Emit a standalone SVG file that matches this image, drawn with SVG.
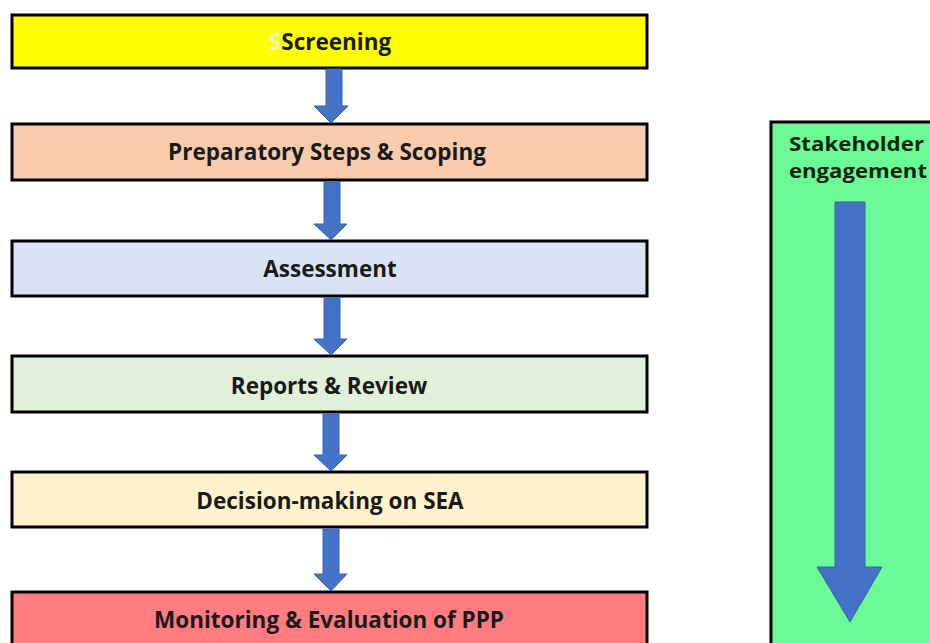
<svg xmlns="http://www.w3.org/2000/svg" width="930" height="643" viewBox="0 0 930 643">
<style>
.box{stroke:#000;stroke-width:3}
.lbl{font-family:"Open Sans","Liberation Sans",sans-serif;font-weight:bold;font-size:22.5px;fill:#1a1a1a;text-anchor:middle}
.side{font-family:"Open Sans","Liberation Sans",sans-serif;font-weight:bold;font-size:20px;fill:#0d260f}
.arr{fill:#4472C4;stroke:#3a64b0;stroke-width:1}
</style>
<rect width="930" height="643" fill="#fff"/>
<g id="screening"><rect class="box" x="12" y="15" width="635" height="53" fill="#FFFF00"/><text class="lbl" x="330" y="50"><tspan fill="#f4f4c0">S</tspan>Screening</text></g>
<g id="preparatory"><rect class="box" x="12" y="124" width="635" height="56" fill="#F8CBAD"/><text class="lbl" x="327" y="160">Preparatory Steps &amp; Scoping</text></g>
<g id="assessment"><rect class="box" x="12" y="241" width="635" height="55" fill="#DAE3F3"/><text class="lbl" x="330" y="277">Assessment</text></g>
<g id="reports"><rect class="box" x="12" y="356" width="635" height="56" fill="#E2F0D9"/><text class="lbl" x="329" y="394">Reports &amp; Review</text></g>
<g id="decision"><rect class="box" x="12" y="472" width="635" height="55" fill="#FFF2CC"/><text class="lbl" x="330" y="509">Decision-making on SEA</text></g>
<g id="monitoring"><rect class="box" x="12" y="592" width="635" height="56" fill="#FF7C80"/><text class="lbl" x="329" y="628">Monitoring &amp; Evaluation of PPP</text></g>
<g id="stakeholder"><rect class="box" x="771" y="122" width="170" height="530" fill="#6CFA96"/><text class="side" x="789" y="151" textLength="135" lengthAdjust="spacingAndGlyphs">Stakeholder</text><text class="side" x="789" y="178" textLength="138" lengthAdjust="spacingAndGlyphs">engagement</text><polygon class="arr" points="835,202 865,202 865,567 882,567 850,622 817,567 835,567"/></g>
<g id="connectors">
<polygon class="arr" points="326,69 342,69 342,106 348,106 331,123 314,106 326,106"/>
<polygon class="arr" points="324,182 340,182 340,224 347,224 331,240 314,224 324,224"/>
<polygon class="arr" points="324,298 340,298 340,339 347,339 331,355 314,339 324,339"/>
<polygon class="arr" points="323,414 339,414 339,455 347,455 331,471 314,455 323,455"/>
<polygon class="arr" points="323,529 339,529 339,574 347,574 331,591 314,574 323,574"/>
</g>
</svg>
